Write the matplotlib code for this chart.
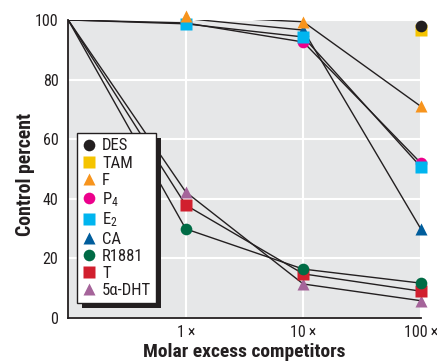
import numpy as np
import matplotlib.pyplot as plt
from matplotlib.patches import Rectangle

plt.rcParams['font.family'] = ['Roboto Condensed', 'Liberation Sans Narrow', 'Archivo Narrow', 'DejaVu Sans']
plt.rcParams['mathtext.default'] = 'regular'

# dose positions: 0 = no competitor, then 1x, 10x, 100x molar excess
doses = [0, 1, 2, 3]
dose_labels = ["1\u2009\u00d7", "10\u2009\u00d7", "100\u2009\u00d7"]

names = ["DES", "TAM", "F", "P$_4$", "E$_2$", "CA", "R1881", "T", "5\u03b1-DHT"]
colors = ["#231f20", "#f5c400", "#f7941d", "#ec008c", "#00b5ef",
          "#005d9c", "#006b45", "#d11f2e", "#a5649a"]
markers = ["o", "s", "^", "o", "s", "^", "o", "s", "^"]

# control percent per competitor (None = not measured)
des = [None, None, None, 98.1]
tam = [None, None, None, 96.6]
f = [100, 101.3, 99.4, 71]
p4 = [100, 99.0, 92.6, 52]
e2 = [100, 98.7, 94.3, 50.7]
ca = [100, 100.5, 96.6, 29.9]
r1881 = [100, 29.9, 16.4, 11.7]
t = [100, 37.9, 14.8, 9.0]
dht = [100, 42.3, 11.4, 5.8]

series = [des, tam, f, p4, e2, ca, r1881, t, dht]
draw_order = [1, 0, 3, 5, 4, 2, 8, 7, 6]

fig = plt.figure(figsize=(4.37, 3.63), dpi=100)
ax = fig.add_axes([0.156, 0.124, 0.807, 0.821])
ax.set_facecolor("#e6e7e8")

# connecting lines first, markers on top
for vals in series:
    pts = [(x, v) for x, v in zip(doses, vals) if v is not None]
    if len(pts) > 1:
        xs, ys = zip(*pts)
        ax.plot(xs, ys, color="#231f20", lw=1.0, zorder=2)

handles = {}
for i in draw_order:
    pts = [(x, v) for x, v in zip(doses, series[i]) if v is not None and x > 0]
    xs, ys = zip(*pts)
    h, = ax.plot(xs, ys, ls="none", marker=markers[i], color=colors[i],
                 ms=8.4 if markers[i] != "^" else 9, mec="none",
                 clip_on=False, zorder=3)
    handles[i] = h

ax.set_xlim(0, 3)
ax.set_ylim(0, 100)
ax.set_xticks([1, 2, 3])
ax.set_xticklabels(dose_labels, fontsize=11.5, color="#231f20")
ax.set_yticks([0, 20, 40, 60, 80, 100])
ax.set_yticklabels(["0", "20", "40", "60", "80", "100"], fontsize=11.5, color="#231f20")
ax.tick_params(axis="y", length=0, pad=7)
ax.tick_params(axis="x", length=0, pad=5)
ax.grid(True, color="white", lw=1.5)
ax.set_axisbelow(True)
for side in ["top", "right"]:
    ax.spines[side].set_visible(False)
for side in ["left", "bottom"]:
    ax.spines[side].set_color("#231f20")
    ax.spines[side].set_linewidth(1.3)

ax.set_ylabel("Control percent", fontsize=14.2, fontweight="bold", color="#231f20")
ax.set_xlabel("Molar excess competitors", fontsize=14, fontweight="bold", color="#231f20")
ax.yaxis.set_label_coords(-0.095, 0.483)
ax.xaxis.set_label_coords(0.5, -0.085)

leg = ax.legend([handles[i] for i in range(9)], names, loc="lower left",
                bbox_to_anchor=(0.0255, 0.05), fontsize=12, frameon=True,
                fancybox=False, framealpha=1, borderpad=0.3, labelspacing=0.13,
                handlelength=0.8, handletextpad=0.4, borderaxespad=0)
leg.get_frame().set_edgecolor("#231f20")
leg.get_frame().set_linewidth(1.0)
leg.get_frame().set_facecolor("white")
for txt in leg.get_texts():
    txt.set_color("#231f20")
leg.set_zorder(5)

# black drop shadow behind the legend box
fig.canvas.draw()
bb = leg.get_frame().get_window_extent()
shadow = Rectangle((bb.x0 + 5, bb.y0 - 5), bb.width, bb.height,
                   transform=None, facecolor="#231f20", edgecolor="none", zorder=4)
ax.add_artist(shadow)

fig.savefig("out.png", dpi=100)
